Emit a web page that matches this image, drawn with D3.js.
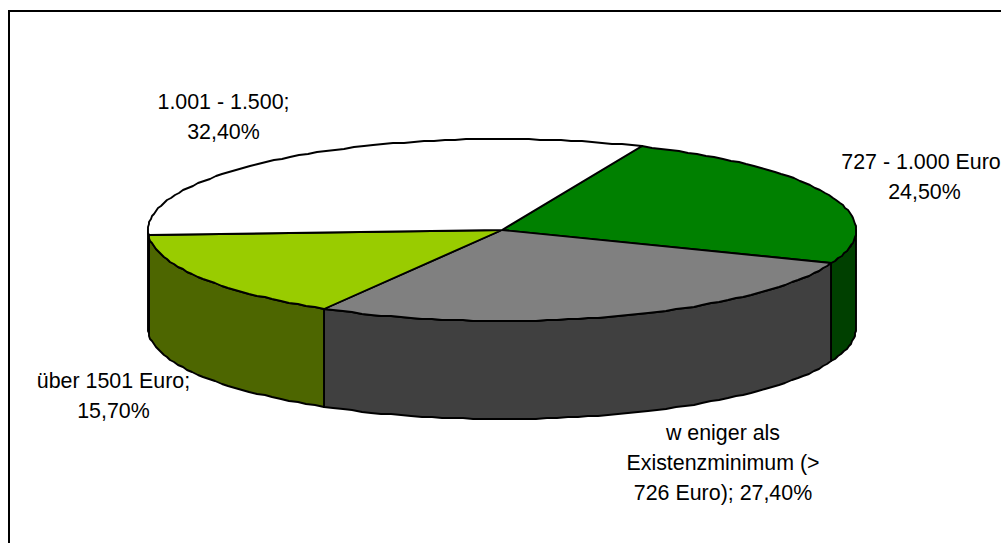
<!DOCTYPE html>
<html>
<head>
<meta charset="utf-8">
<script src="https://cdn.jsdelivr.net/npm/d3@7"></script>
<style>
html, body { margin: 0; padding: 0; background: #fff; overflow: hidden; }
text { font-family: "Liberation Sans", Arial, sans-serif; font-size: 21.4px; fill: #000; text-anchor: middle; }
</style>
</head>
<body>
<script>
//Data, clockwise from the top of the pie
var categories = ["727 - 1.000 Euro", "weniger als Existenzminimum", "über 1501 Euro", "1.001 - 1.500"];
var shares = [24.5, 27.4, 15.7, 32.4];
var topColors = ["#008000", "#808080", "#99cc00", "#ffffff"];
var sideColors = ["#004000", "#404040", "#4d6600", "#808080"];
var labelLines = [
    ["727 - 1.000 Euro", "24,50%"],
    ["w eniger als", "Existenzminimum (>", "726 Euro); 27,40%"],
    ["über 1501 Euro;", "15,70%"],
    ["1.001 - 1.500;", "32,40%"]
];

//Width and height
var w = 1001;
var h = 543;

//Pie geometry
var cx = 502, cy = 230, rx = 354, ry = 91, depth = 98;
var startAngle = 23.3 * Math.PI / 180;
var labelX = [[921, 924.5], [723, 723, 723], [113.5, 113.5], [223.5, 223.5]];
var labelY = [169, 440, 388, 109];
var lineGap = 30;

var xScale = d3.scaleLinear().domain([-1, 1]).range([cx - rx, cx + rx]);
var yScale = d3.scaleLinear().domain([-1, 1]).range([cy + ry, cy - ry]);

var pie = d3.pie().sort(null).startAngle(startAngle).endAngle(startAngle + 2 * Math.PI);
var arcs = pie(shares);

var svg = d3.select("body").append("svg")
    .attr("width", w)
    .attr("height", h)
    .style("display", "block");

//Outer frame, runs off the right and bottom of the picture
svg.append("rect")
    .attr("x", 9).attr("y", 11)
    .attr("width", w + 20).attr("height", h + 20)
    .attr("fill", "#fff")
    .attr("stroke", "#000")
    .attr("stroke-width", 2);

//Points on the rim between two angles, dropped by dy for the lower edge
function rim(a0, a1, dy) {
    var n = Math.max(2, Math.ceil(Math.abs(a1 - a0) / 0.03));
    return d3.range(n + 1).map(function(i) {
        var a = a0 + (a1 - a0) * i / n;
        return [Math.round(xScale(Math.sin(a))), Math.round(yScale(Math.cos(a)) + dy)];
    });
}

var line = d3.line();

function side(d) {
    //only the front half of the pie shows a wall (angles 90 to 270 degrees)
    var pieces = [];
    [0, 2 * Math.PI].forEach(function(off) {
        var a0 = Math.max(d.startAngle, Math.PI / 2 + off);
        var a1 = Math.min(d.endAngle, 3 * Math.PI / 2 + off);
        if (a1 > a0) pieces.push([a0, a1]);
    });
    return pieces.map(function(p) {
        return line(rim(p[0], p[1], 0).concat(rim(p[1], p[0], depth))) + "Z";
    }).join("");
}

//Walls
svg.append("g").selectAll("path")
    .data(arcs)
    .join("path")
    .attr("d", side)
    .attr("fill", function(d, i) { return sideColors[i]; })
    .attr("stroke", "#000")
    .attr("stroke-width", 1.9)
    .attr("stroke-linejoin", "round");

//Top faces
svg.append("g").selectAll("path")
    .data(arcs)
    .join("path")
    .attr("d", function(d) {
        return line([[cx, cy]].concat(rim(d.startAngle, d.endAngle, 0))) + "Z";
    })
    .attr("fill", function(d, i) { return topColors[i]; })
    .attr("stroke", "#000")
    .attr("stroke-width", 1.9)
    .attr("stroke-linejoin", "round");

//Labels
var labels = svg.append("g").selectAll("text")
    .data(labelLines)
    .join("text")
    .attr("y", function(d, i) { return labelY[i]; });

labels.selectAll("tspan")
    .data(function(d, i) { return d.map(function(t, j) { return { t: t, x: labelX[i][j] }; }); })
    .join("tspan")
    .attr("x", function(d) { return d.x; })
    .attr("dy", function(d, i) { return i ? lineGap : 0; })
    .text(function(d) { return d.t; });
</script>
</body>
</html>
